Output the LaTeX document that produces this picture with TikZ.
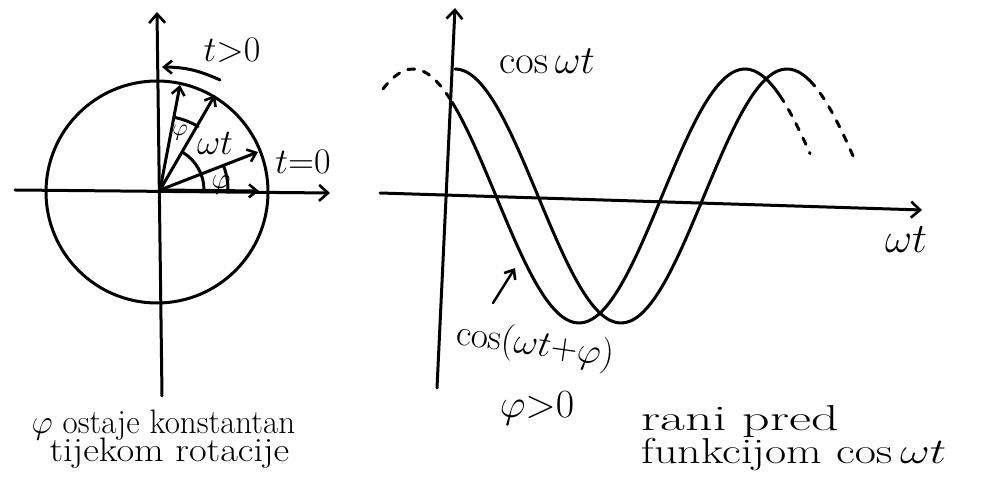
\RequirePackage{fix-cm}
\documentclass[tikz,border=0pt]{standalone}
\usetikzlibrary{arrows.meta}
\begin{document}
\begin{tikzpicture}[x=1pt,y=1pt,line width=3pt,line cap=round,line join=round,
  axisarrow/.style={-{Straight Barb[length=9pt,width=16pt,line width=2.6pt]}},
  vecarrow/.style={-{Straight Barb[length=8pt,width=13pt,line width=2.6pt]}},
  lbl/.style={font=\fontsize{36}{38}\selectfont,inner sep=0pt},
  txt/.style={font=\fontsize{34}{36}\selectfont,inner sep=0pt,anchor=west},
  dashpart/.style={dash pattern=on 7pt off 9pt}]
\useasboundingbox (0,0) rectangle (986,484);
% ---------------- left: rotating phasors ----------------
\coordinate (O) at (160,294);
\coordinate (VB) at (162,88);
\coordinate (VT) at (157,472);
\coordinate (HL) at (15,294);
\coordinate (HR) at (330,291);
\draw[axisarrow] (VB) -- (VT);
\draw[axisarrow] (HL) -- (HR);
\draw (157,292) circle[radius=111];
\coordinate (P0) at (259,293);
\coordinate (P1) at (258,332);
\coordinate (P2) at (215,389);
\coordinate (P3) at (180,399);
\draw[vecarrow] (O) -- (P0);
\draw[vecarrow] (O) -- (P1);
\draw[vecarrow] (O) -- (P2);
\draw[vecarrow] (O) -- (P3);
\draw (O) ++(44,0) arc[start angle=0,end angle=59,radius=44];
\draw (O) ++(59:74) arc[start angle=59,end angle=79,radius=74];
\draw (O) ++(68,0) arc[start angle=0,end angle=21,radius=68];
\coordinate (R1) at (220,404);
\coordinate (R2) at (162,417);
\draw[vecarrow] (R1) to[bend right=12] (R2);
\node[lbl] (tpos) at (232,434) {$t{>}0$};
\node[lbl] (tzero) at (303,322) {$t{=}0$};
\node[lbl,font=\fontsize{36}{38}\selectfont] (wt1) at (215,341) {$\omega t$};
\node[lbl,font=\fontsize{24}{26}\selectfont] (phi1) at (180,351) {$\varphi$};
\node[lbl,font=\fontsize{30}{32}\selectfont] (phi2) at (221,299) {$\varphi$};
\node[txt] (l1) at (30,59) {\scalebox{0.97}[1]{$\varphi$ ostaje konstantan}};
\node[txt] (l2) at (48,31) {\scalebox{1.13}[1]{tijekom rotacije}};
% ---------------- right: time functions ----------------
\coordinate (YB) at (437,96);
\coordinate (YT) at (455,476);
\coordinate (XL) at (380,291);
\coordinate (XR) at (922,274);
\draw[axisarrow] (YB) -- (YT);
\draw[axisarrow] (XL) -- (XR);
% cos(wt)
\draw plot[domain=455:810,samples=90,smooth] (\x,{288+127*cos((\x-455)*1.0843)});
\draw[dashpart] plot[domain=810:853,samples=15,smooth] (\x,{288+127*cos((\x-455)*1.0843)});
% cos(wt+phi)
\draw[dashpart] plot[domain=383:452,samples=20,smooth] (\x,{288+127*cos((\x-413)*1.0843)});
\draw plot[domain=452:780,samples=90,smooth] (\x,{288+127*cos((\x-413)*1.0843)});
\draw[dashpart] plot[domain=780:810,samples=10,smooth] (\x,{288+127*cos((\x-413)*1.0843)});
\node[lbl,font=\fontsize{40}{42}\selectfont] (coswt) at (547,423) {$\mathrm{cos}\,\omega t$};
\node[lbl,font=\fontsize{42}{44}\selectfont] (wt2) at (906,244) {$\omega t$};
\node[lbl,rotate=-8,font=\fontsize{37}{39}\selectfont] (coswtphi) at (535,138) {$\mathrm{cos}(\omega t{+}\varphi)$};
\coordinate (AT) at (515,216);
\draw[vecarrow,line width=2.4pt] (493,181) -- (AT);
\node[lbl,font=\fontsize{40}{42}\selectfont] (phipos) at (537,75) {$\varphi{>}0$};
\node[txt,font=\fontsize{36}{38}\selectfont] (r1) at (640,62) {\scalebox{1.5}[1]{rani pred}};
\node[txt,font=\fontsize{36}{38}\selectfont] (r2) at (640,29) {\scalebox{1.28}[1]{funkcijom $\mathrm{cos}\,\omega t$}};
\end{tikzpicture}
\end{document}
